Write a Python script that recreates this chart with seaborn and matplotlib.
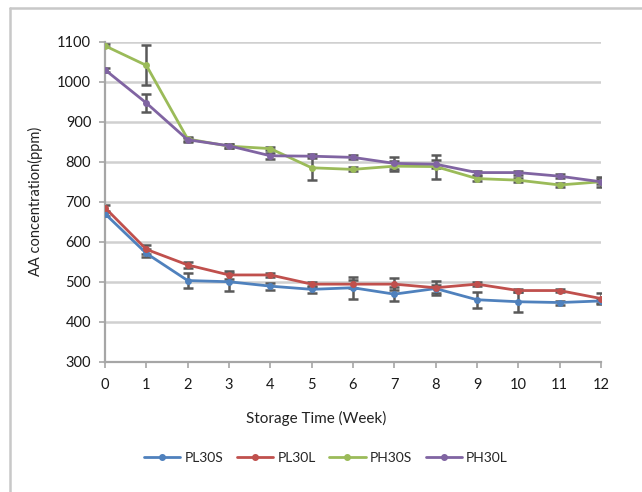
import matplotlib
matplotlib.use("Agg")
import matplotlib.pyplot as plt
import seaborn as sns
import pandas as pd
import numpy as np
from matplotlib.lines import Line2D

weeks = list(range(13))
series_names = ["PL30S", "PL30L", "PH30S", "PH30L"]
pl30s = [670, 571, 503, 500, 489, 481, 485, 469, 483, 455, 450, 448, 452]
pl30l = [685, 581, 542, 517, 517, 494, 494, 494, 485, 494, 478, 478, 458]
ph30s = [1090, 1041, 857, 839, 833, 785, 781, 789, 788, 758, 754, 742, 750]
ph30l = [1030, 947, 855, 840, 815, 814, 811, 796, 794, 773, 773, 764, 750]
pl30s_err = [5, 10, 18, 22, 9, 8, 27, 17, 10, 20, 25, 5, 6]
pl30l_err = [8, 12, 8, 11, 4, 6, 10, 15, 17, 5, 4, 4, 13]
ph30s_err = [4, 50, 5, 5, 4, 30, 5, 12, 30, 6, 5, 5, 6]
ph30l_err = [5, 22, 5, 5, 8, 5, 5, 15, 10, 5, 5, 5, 12]
colors = ["#4F81BD", "#C0504D", "#9BBB59", "#8064A2"]

values = [pl30s, pl30l, ph30s, ph30l]
errs = [pl30s_err, pl30l_err, ph30s_err, ph30l_err]

rows = []
for name, v, e in zip(series_names, values, errs):
    for w, val, er in zip(weeks, v, e):
        rows.append({"week": w, "value": val, "err": er, "series": name})
df = pd.DataFrame(rows)

sns.set_theme(style="white")
plt.rcParams["font.family"] = ["Lato", "DejaVu Sans"]

fig = plt.figure(figsize=6.42 * np.array([1, 492 / 642]), dpi=100)
ax = fig.add_axes([0.1636, 0.2648, 0.936 - 0.1636, 0.915 - 0.2648])

for name in series_names:
    d = df[df.series == name]
    ax.errorbar(d["week"], d["value"], yerr=d["err"], fmt="none",
                ecolor="#595959", elinewidth=1.8, capsize=3.5, capthick=1.8,
                zorder=2)

sns.lineplot(data=df, x="week", y="value", hue="series", palette=colors,
             hue_order=series_names, marker="o", markersize=5,
             markeredgewidth=0, linewidth=2, ax=ax, legend=False, zorder=3)

ax.set_xlim(0, 12)
ax.set_ylim(300, 1100)
ax.set_xticks(weeks)
ax.set_yticks(range(300, 1101, 100))
ax.yaxis.grid(True, color="#d0d0d0", linewidth=1.8)
ax.xaxis.grid(False)
for s in ["top", "right"]:
    ax.spines[s].set_visible(False)
for s in ["left", "bottom"]:
    ax.spines[s].set_color("#a6a6a6")
    ax.spines[s].set_linewidth(1.6)
ax.tick_params(axis="both", which="major", length=4, width=1.2,
               color="#a6a6a6", labelsize=10.5, labelcolor="#1a1a1a",
               direction="out", bottom=True, left=True)
ax.tick_params(axis="x", pad=8)
ax.tick_params(axis="y", pad=6)

ax.set_xlabel("Storage Time (Week)", fontsize=11, color="#222222")
ax.xaxis.set_label_coords((316 - 105) / (601 - 105), -0.155)
ax.set_ylabel("AA concentration(ppm)", fontsize=10.5, color="#222222")
ax.yaxis.set_label_coords(-0.125, 0.5)

handles = [Line2D([0], [0], color=c, linewidth=2, marker="o", markersize=4)
           for c in colors]
fig.legend(handles, series_names, loc="center", ncol=4,
           bbox_to_anchor=(326 / 642, 1 - 458 / 492), frameon=False,
           fontsize=10, handlelength=2.6, columnspacing=1.0, handletextpad=0.3)

fig.add_artist(Line2D([10 / 642, 1.0], [1 - 8 / 492, 1 - 8 / 492],
                      color="#c8c8c8", linewidth=1.8, transform=fig.transFigure))
fig.add_artist(Line2D([10 / 642, 10 / 642], [0, 1 - 8 / 492],
                      color="#c8c8c8", linewidth=1.8, transform=fig.transFigure))

fig.savefig("out.png", dpi=100)
